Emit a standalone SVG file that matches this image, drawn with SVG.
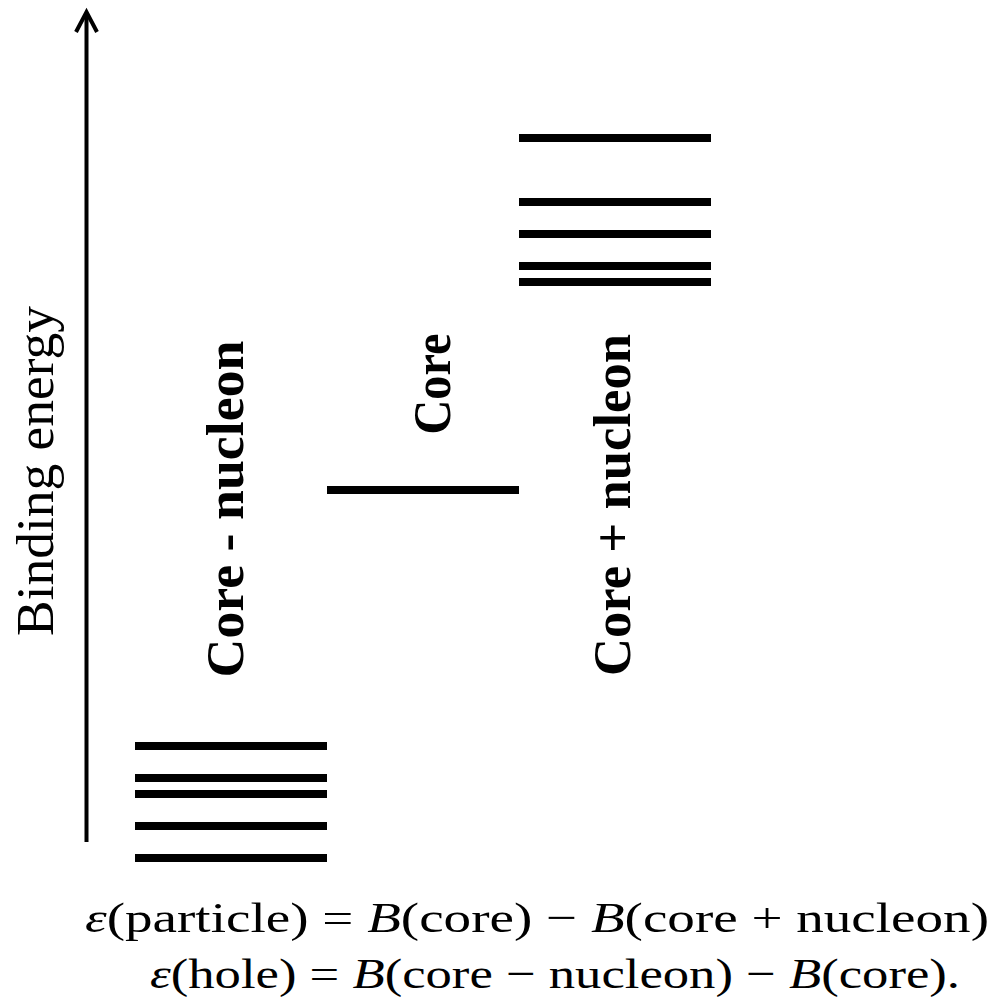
<svg xmlns="http://www.w3.org/2000/svg" width="994" height="1005" viewBox="0 0 994 1005">
<style>
.lvl{stroke:#000;stroke-width:8;fill:none}
.ax{stroke:#000;stroke-width:4;fill:none;stroke-miterlimit:10}
text{font-family:'Liberation Serif','Times New Roman',serif;fill:#000}
.lbl{font-weight:bold;font-size:53px;text-anchor:middle}
.yl{font-size:53px;text-anchor:middle}
.eq{font-size:43px}
.it{font-style:italic}
</style>
<rect width="994" height="1005" fill="#fff"/>
<g id="axis">
<line class="ax" x1="86.5" y1="842" x2="86.5" y2="13"/>
<polyline class="ax" points="76,32 86.5,12 97,32"/>
<text class="yl" transform="translate(53,471) rotate(-90)" textLength="330" lengthAdjust="spacingAndGlyphs">Binding energy</text>
</g>
<g id="core-minus-nucleon">
<line class="lvl" x1="135" y1="746" x2="327" y2="746"/>
<line class="lvl" x1="135" y1="778" x2="327" y2="778"/>
<line class="lvl" x1="135" y1="794" x2="327" y2="794"/>
<line class="lvl" x1="135" y1="826" x2="327" y2="826"/>
<line class="lvl" x1="135" y1="858" x2="327" y2="858"/>
<text class="lbl" transform="translate(243,509) rotate(-90)" textLength="337" lengthAdjust="spacingAndGlyphs">Core - nucleon</text>
</g>
<g id="core">
<line class="lvl" x1="327" y1="490" x2="519" y2="490"/>
<text class="lbl" transform="translate(450,384) rotate(-90)" textLength="101" lengthAdjust="spacingAndGlyphs">Core</text>
</g>
<g id="core-plus-nucleon">
<line class="lvl" x1="519" y1="138" x2="711" y2="138"/>
<line class="lvl" x1="519" y1="202" x2="711" y2="202"/>
<line class="lvl" x1="519" y1="234" x2="711" y2="234"/>
<line class="lvl" x1="519" y1="266" x2="711" y2="266"/>
<line class="lvl" x1="519" y1="282" x2="711" y2="282"/>
<text class="lbl" transform="translate(630,505) rotate(-90)" textLength="342" lengthAdjust="spacingAndGlyphs">Core + nucleon</text>
</g>
<g id="formulas">
<text class="eq" x="85" y="932" textLength="904" lengthAdjust="spacingAndGlyphs"><tspan class="it">ε</tspan>(particle) = <tspan class="it">B</tspan>(core) − <tspan class="it">B</tspan>(core + nucleon)</text>
<text class="eq" x="150" y="988" textLength="810" lengthAdjust="spacingAndGlyphs"><tspan class="it">ε</tspan>(hole) = <tspan class="it">B</tspan>(core − nucleon) − <tspan class="it">B</tspan>(core).</text>
</g>
</svg>
